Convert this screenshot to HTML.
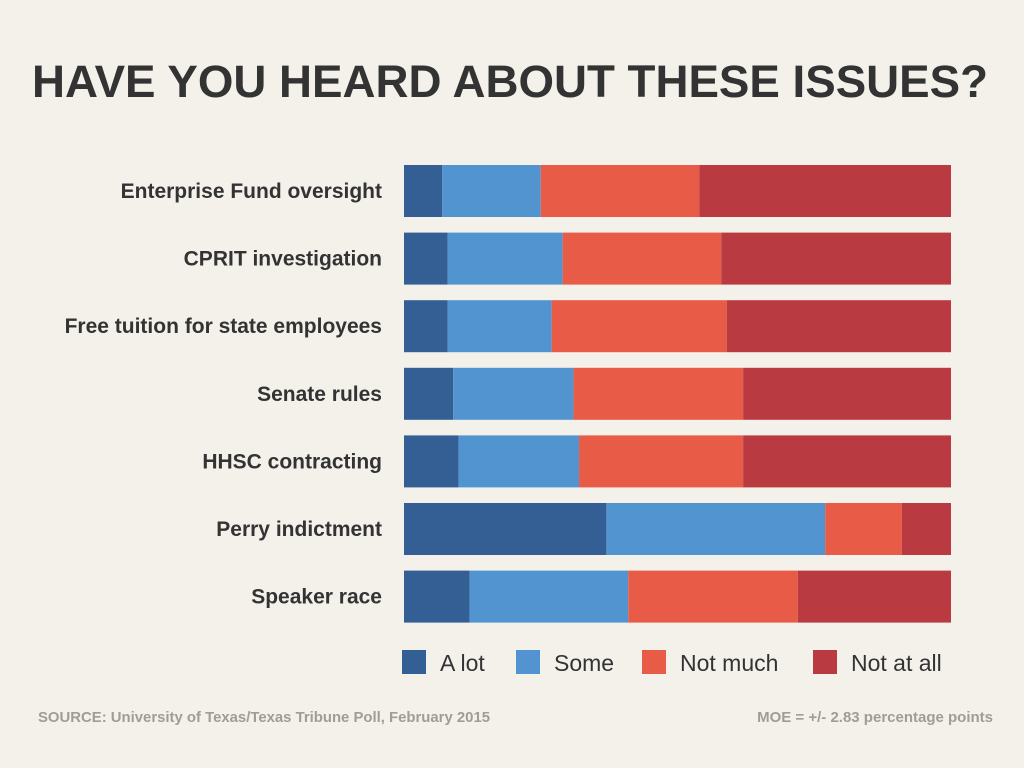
<!DOCTYPE html>
<html><head><meta charset="utf-8"><style>
body{margin:0;width:1024px;height:768px;background:#f3f1ea;font-family:"Liberation Sans",sans-serif;overflow:hidden}
svg{display:block}
</style></head><body>
<svg id="chart" width="1024" height="768">
<text x="510" y="97" text-anchor="middle" font-size="45" font-weight="bold" fill="#333" textLength="956" lengthAdjust="spacingAndGlyphs">HAVE YOU HEARD ABOUT THESE ISSUES?</text>
<g id="bars"></g>
<g id="legend"></g>
<text x="38" y="722" font-size="15" font-weight="bold" fill="#a09c96" textLength="452" lengthAdjust="spacingAndGlyphs">SOURCE: University of Texas/Texas Tribune Poll, February 2015</text>
<text x="993" y="722" text-anchor="end" font-size="15" font-weight="bold" fill="#a09c96">MOE = +/- 2.83 percentage points</text>
</svg>
<script>
const categories=["Enterprise Fund oversight","CPRIT investigation","Free tuition for state employees","Senate rules","HHSC contracting","Perry indictment","Speaker race"];
const seriesNames=["A lot","Some","Not much","Not at all"];
const aLot=[7,8,8,9,10,37,12];
const some=[18,21,19,22,22,40,29];
const notMuch=[29,29,32,31,30,14,31];
const notAtAll=[46,42,41,38,38,9,28];
const colors=["#345f94","#5294d0","#e85b46","#b93a40"];
const NS="http://www.w3.org/2000/svg";
const x0=404,x1=951,rowTop=165,rowStep=67.6,barH=52;
const series=[aLot,some,notMuch,notAtAll];
const bars=document.getElementById('bars');
function xScale(v,total){return x0+(v/total)*(x1-x0);}
categories.forEach((c,i)=>{
  const y=rowTop+i*rowStep;
  const t=document.createElementNS(NS,'text');
  t.setAttribute('x',382);t.setAttribute('y',y+barH/2+7);
  t.setAttribute('text-anchor','end');t.setAttribute('font-size','21');
  t.setAttribute('font-weight','bold');t.setAttribute('fill','#333');
  t.textContent=c;
  
  
  bars.appendChild(t);
  const total=series.reduce((s,a)=>s+a[i],0);
  let cum=0;
  series.forEach((arr,k)=>{
    const r=document.createElementNS(NS,'rect');
    const xa=xScale(cum,total);cum+=arr[i];const xb=xScale(cum,total);
    r.setAttribute('x',xa);r.setAttribute('y',y);
    r.setAttribute('width',xb-xa);r.setAttribute('height',barH);
    r.setAttribute('fill',colors[k]);
    
    
    bars.appendChild(r);
  });
});
const legX=[402,516,642,813];
const lg=document.getElementById('legend');
seriesNames.forEach((n,k)=>{
  const r=document.createElementNS(NS,'rect');
  r.setAttribute('x',legX[k]);r.setAttribute('y',650);r.setAttribute('width',24);r.setAttribute('height',24);
  r.setAttribute('fill',colors[k]);
  
  
  lg.appendChild(r);
  const t=document.createElementNS(NS,'text');
  t.setAttribute('x',legX[k]+38);t.setAttribute('y',671);t.setAttribute('font-size','23');t.setAttribute('fill','#333');
  t.textContent=n;
  
  
  lg.appendChild(t);
});
</script>
</body></html>
